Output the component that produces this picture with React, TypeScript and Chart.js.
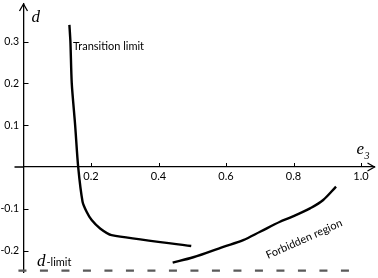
import React, { useEffect, useRef } from 'react';
import { Chart, registerables } from 'chart.js';

Chart.register(...registerables);

// Data (e3, d)
const transitionE = [0.136, 0.139, 0.143, 0.153, 0.162, 0.175, 0.187, 0.202, 0.227, 0.261, 0.497];
const transitionD = [0.340, 0.300, 0.200, 0.100, 0.000, -0.083, -0.107, -0.127, -0.147, -0.163, -0.189];
const forbiddenE = [0.442, 0.503, 0.592, 0.651, 0.701, 0.760, 0.790, 0.849, 0.888, 0.926];
const forbiddenD = [-0.229, -0.216, -0.191, -0.175, -0.155, -0.131, -0.121, -0.099, -0.079, -0.047];
const limitE = [-0.015, 1.0];
const limitD = [-0.248, -0.248];

const xTicks = [0.2, 0.4, 0.6, 0.8, 1.0];
const yTicks = [-0.2, -0.1, 0.1, 0.2, 0.3];

const SANS = 'Lato, "Open Sans", sans-serif';
const SERIF = '"Liberation Serif", "DejaVu Serif", serif';

const toPts = (xs: number[], ys: number[]) => xs.map((x, i) => ({ x, y: ys[i] }));

const noPad = (s: any) => {
  s.paddingTop = 0;
  s.paddingBottom = 0;
  s.paddingLeft = 0;
  s.paddingRight = 0;
};

const decorPlugin = {
  id: 'decor',
  afterDraw(chart: any) {
    const { ctx, chartArea, scales } = chart;
    const xs = scales.x;
    const ys = scales.y;
    const x0 = xs.getPixelForValue(0);
    const y0 = ys.getPixelForValue(0);
    ctx.save();
    ctx.strokeStyle = '#000';
    ctx.fillStyle = '#000';
    ctx.lineWidth = 1.3;
    // short extension of the e3 axis to the left of the d axis, and arrows
    ctx.beginPath();
    ctx.moveTo(x0 - 9, y0);
    ctx.lineTo(x0, y0);
    ctx.moveTo(chartArea.right - 7, y0 - 4);
    ctx.lineTo(chartArea.right, y0);
    ctx.lineTo(chartArea.right - 7, y0 + 4);
    ctx.moveTo(x0 - 4, chartArea.top + 7);
    ctx.lineTo(x0, chartArea.top);
    ctx.lineTo(x0 + 4, chartArea.top + 7);
    ctx.stroke();
    // tick marks
    ctx.lineWidth = 1;
    ctx.beginPath();
    xTicks.forEach((v) => {
      const px = Math.round(xs.getPixelForValue(v)) + 0.5;
      ctx.moveTo(px, y0 - 4);
      ctx.lineTo(px, y0);
    });
    yTicks.forEach((v) => {
      const py = Math.round(ys.getPixelForValue(v)) + 0.5;
      ctx.moveTo(x0, py);
      ctx.lineTo(x0 + 5, py);
    });
    ctx.stroke();

    // axis titles
    ctx.textBaseline = 'alphabetic';
    ctx.textAlign = 'left';
    ctx.font = `italic 17px ${SERIF}`;
    ctx.fillText('d', x0 + 8, chartArea.top + 18);
    ctx.fillText('e', chartArea.right - 18, y0 - 13);
    ctx.font = `italic 10px ${SERIF}`;
    ctx.fillText('3', chartArea.right - 10, y0 - 8);

    // annotations
    ctx.font = `11px ${SANS}`;
    ctx.fillText('Transition limit', 73, 50);

    ctx.font = `italic 17px ${SERIF}`;
    ctx.fillText('d', 37, 266);
    const dw = ctx.measureText('d').width;
    ctx.font = `11px ${SANS}`;
    ctx.fillText('-limit', 37 + dw + 1, 266);

    ctx.save();
    ctx.translate(268, 259);
    ctx.rotate(-24 * Math.PI / 180);
    ctx.font = `11px ${SANS}`;
    ctx.fillText('Forbidden region', 0, 0);
    ctx.restore();

    ctx.restore();
  },
};

export default function App() {
  const ref = useRef<HTMLCanvasElement | null>(null);

  useEffect(() => {
    if (!ref.current) return;
    const chart = new Chart(ref.current, {
      type: 'scatter',
      data: {
        datasets: [
          {
            data: toPts(transitionE, transitionD),
            showLine: true,
            borderColor: '#000',
            borderWidth: 2.4,
            pointRadius: 0,
            tension: 0.25,
            clip: false,
          } as any,
          {
            data: toPts(forbiddenE, forbiddenD),
            showLine: true,
            borderColor: '#000',
            borderWidth: 2.4,
            pointRadius: 0,
            cubicInterpolationMode: 'monotone',
            clip: false,
          } as any,
          {
            data: toPts(limitE, limitD),
            showLine: true,
            borderColor: '#5a5a5a',
            borderWidth: 2.4,
            borderDash: [8, 13.5],
            pointRadius: 0,
            clip: false,
          } as any,
        ],
      },
      options: {
        responsive: false,
        animation: false,
        events: [],
        layout: { padding: { left: 0, right: 3.5, top: 4, bottom: 5.7 } },
        plugins: {
          legend: { display: false },
          tooltip: { enabled: false },
        },
        scales: {
          x: {
            type: 'linear',
            min: 0,
            max: 1.04,
            position: { y: 0 } as any,
            afterBuildTicks: (s: any) => {
              s.ticks = xTicks.map((v) => ({ value: v }));
            },
            afterFit: noPad,
            ticks: {
              autoSkip: false,
              maxRotation: 0,
              padding: 3,
              color: '#000',
              font: { family: SANS, size: 11 },
              callback: (v: any) => Number(v).toFixed(1),
            },
            grid: { drawOnChartArea: false, drawTicks: false, color: 'rgba(0,0,0,0)' },
            border: { display: true, color: '#000', width: 1.3 },
          },
          y: {
            type: 'linear',
            min: -0.252,
            max: 0.39,
            position: 'left',
            afterBuildTicks: (s: any) => {
              s.ticks = yTicks.map((v) => ({ value: v }));
            },
            afterFit: (s: any) => {
              noPad(s);
              s.width = 23.5;
            },
            ticks: {
              autoSkip: false,
              padding: 4.5,
              color: '#000',
              font: { family: SANS, size: 10.5 },
              callback: (v: any) => Number(v).toFixed(1),
            },
            grid: { drawOnChartArea: false, drawTicks: false, color: 'rgba(0,0,0,0)' },
            border: { display: true, color: '#000', width: 1.3 },
          },
        },
      },
      plugins: [decorPlugin],
    });
    return () => chart.destroy();
  }, []);

  return (
    <div style={{ position: 'absolute', left: 0, top: 0, width: 378, height: 278, background: '#fff' }}>
      <canvas ref={ref} width={378} height={278} />
    </div>
  );
}
